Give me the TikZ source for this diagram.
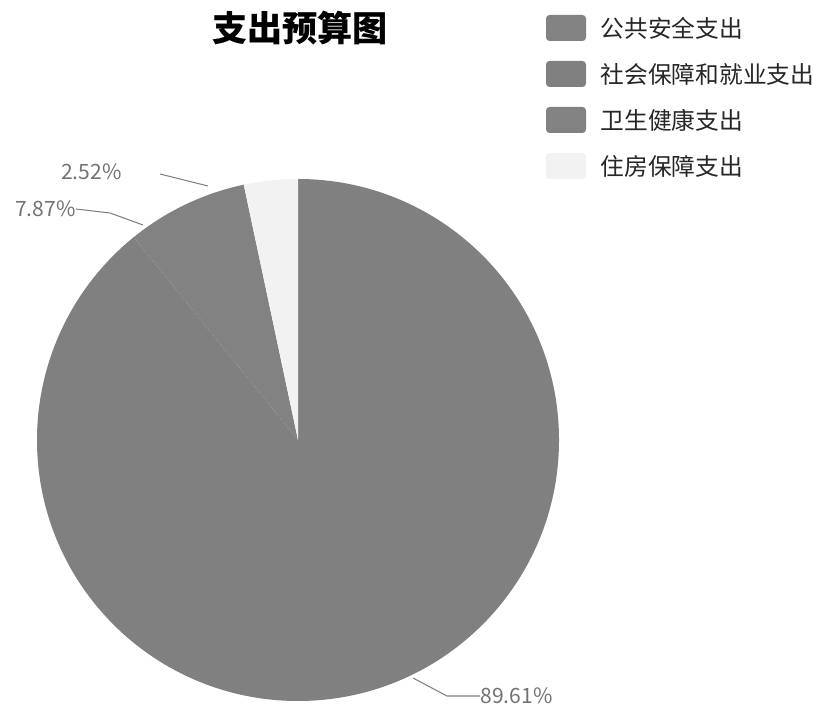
\documentclass[tikz,border=0pt]{standalone}
\usepackage{fontspec}
\setmainfont{Noto Sans CJK SC}
\usepackage{tikz}
\usetikzlibrary{positioning,calc}
\definecolor{safety}{gray}{0.51}
\definecolor{social}{gray}{0.50}
\definecolor{health}{gray}{0.51}
\definecolor{housing}{gray}{0.95}
\tikzstyle{swatch} = [rectangle, rounded corners=2pt, minimum width=0.8cm, minimum height=0.52cm, inner sep=0pt]
\tikzstyle{legtext} = [inner sep=0pt, font=\fontsize{13.5}{16}\selectfont, text=black!85]
\tikzstyle{pct} = [inner sep=0pt, font=\fontsize{12}{14}\selectfont, text=black!55]
\tikzstyle{leader} = [draw=black!50, line width=0.6pt]
\begin{document}
\begin{tikzpicture}[x=0.02cm, y=0.02cm, node distance=0.92cm]
\useasboundingbox (0,0) rectangle (813,709);
\node (title) at (300,681) {\fontsize{20}{24}\selectfont\bfseries 支出预算图};

% pie
\coordinate (C) at (298,269);
\fill [social] (C) -- ++(90:261) arc[start angle=90, end angle=-231, radius=261] -- cycle;
\fill [health] (C) -- ++(-231:261) arc[start angle=-231, end angle=-258, radius=261] -- cycle;
\fill [housing] (C) -- ++(-258:261) arc[start angle=-258, end angle=-270, radius=261] -- cycle;

% labels
\coordinate (e252) at (208,523);
\coordinate (k252) at (160,535);
\coordinate (e787) at (143,484);
\coordinate (k787) at (110,496);
\coordinate (e8961) at (413,31);
\coordinate (k8961) at (447,13);
\node (p252) [pct, anchor=east] at (122,537) {2.52\%};
\node (p787) [pct, anchor=east] at (76,500) {7.87\%};
\node (p8961) [pct, anchor=west] at (480,13) {89.61\%};
\draw [leader] (e252) -- (k252);
\draw [leader] (e787) -- (k787) -- (p787.east);
\draw [leader] (e8961) -- (k8961) -- (p8961.west);

% legend
\node (sw1) [swatch, fill=safety] at (566,681) {};
\node (sw2) [swatch, fill=social, below of=sw1] {};
\node (sw3) [swatch, fill=health, below of=sw2] {};
\node (sw4) [swatch, fill=housing, below of=sw3] {};
\node (lg1) [legtext, right=0.28cm of sw1] {公共安全支出};
\node (lg2) [legtext, right=0.28cm of sw2] {社会保障和就业支出};
\node (lg3) [legtext, right=0.28cm of sw3] {卫生健康支出};
\node (lg4) [legtext, right=0.28cm of sw4] {住房保障支出};
\end{tikzpicture}
\end{document}
